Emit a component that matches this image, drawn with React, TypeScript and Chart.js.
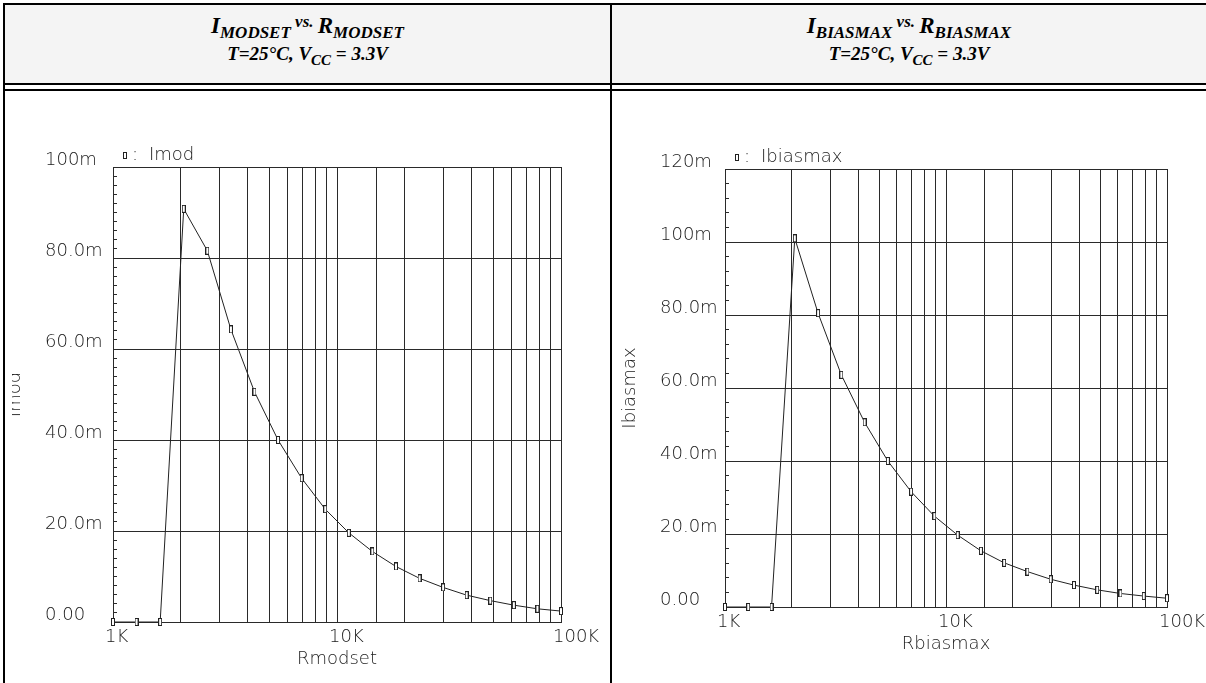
import React, { useEffect, useRef } from 'react';
import { Chart, registerables } from 'chart.js';

Chart.register(...registerables);

// ---- data ----
const resistanceOhms = [1000, 1274, 1624, 2069, 2637, 3360, 4281, 5456, 6952, 8859, 11288, 14384, 18330, 23357, 29764, 37927, 48329, 61585, 78476, 100000];
const imodMilliamps = [0, 0, 0, 90.8, 81.6, 64.3, 50.6, 40.0, 31.6, 24.8, 19.6, 15.5, 12.2, 9.6, 7.6, 5.9, 4.7, 3.7, 2.9, 2.4];
const ibiasmaxMilliamps = [0, 0, 0, 101.0, 80.5, 63.6, 50.6, 40.0, 31.6, 24.9, 19.7, 15.4, 12.1, 9.7, 7.6, 6.0, 4.7, 3.7, 3.0, 2.4];

const xTickValues = [1000, 10000, 100000];
const xTickLabels = ['1K', '10K', '100K'];
const imodTickValues = [0, 20, 40, 60, 80, 100];
const imodTickLabels = ['0.00', '20.0m', '40.0m', '60.0m', '80.0m', '100m'];
const ibiasTickValues = [0, 20, 40, 60, 80, 100, 120];
const ibiasTickLabels = ['0.00', '20.0m', '40.0m', '60.0m', '80.0m', '100m', '120m'];

const TEXT = '#1a1a1a';
const GRID = '#2a2a2a';
const AXIS_FONT = { family: '"DejaVu Sans", "Liberation Sans", sans-serif', size: 18, weight: '200' as any };

function makeMarker(): HTMLCanvasElement {
  const c = document.createElement('canvas');
  c.width = 4;
  c.height = 8;
  const g = c.getContext('2d')!;
  g.fillStyle = '#ffffff';
  g.fillRect(0, 0, 4, 8);
  g.strokeStyle = '#222222';
  g.lineWidth = 1;
  g.strokeRect(0.5, 0.5, 3, 7);
  return c;
}

type PlotProps = {
  left: number;
  top: number;
  width: number;
  height: number;
  padLeft: number;
  yAxisWidth: number;
  padTop: number;
  padRight: number;
  padBottom: number;
  xAxisHeight: number;
  yMax: number;
  yStep: number;
  yTickValues: number[];
  yTickLabels: string[];
  values: number[];
  seriesLabel: string;
  xTitle: string;
  yTitle: string;
  yTitlePadTop: number;
};

function Plot(p: PlotProps) {
  const ref = useRef<HTMLCanvasElement | null>(null);
  useEffect(() => {
    if (!ref.current) return;
    const marker = makeMarker();
    const keyPlugin = {
      id: 'seriesKey',
      afterDraw(chart: any) {
        const { ctx, chartArea } = chart;
        ctx.save();
        ctx.strokeStyle = '#222';
        ctx.lineWidth = 1;
        const mx = Math.round(chartArea.left + 10) + 0.5;
        const my = Math.round(chartArea.top - 15) + 0.5;
        ctx.strokeRect(mx, my, 3, 6);
        ctx.fillStyle = TEXT;
        ctx.font = `${AXIS_FONT.weight} ${AXIS_FONT.size}px ${AXIS_FONT.family}`;
        ctx.textBaseline = 'alphabetic';
        ctx.textAlign = 'left';
        ctx.fillText(':', chartArea.left + 19, chartArea.top - 7);
        ctx.fillText(p.seriesLabel, chartArea.left + 36, chartArea.top - 7);
        ctx.restore();
      },
    };
    const chart = new Chart(ref.current, {
      type: 'line',
      data: {
        datasets: [
          {
            label: p.seriesLabel,
            data: resistanceOhms.map((r, i) => ({ x: r, y: p.values[i] })),
            borderColor: '#222',
            borderWidth: 1,
            pointStyle: marker as any,
            pointRadius: 4,
            tension: 0,
            clip: false as any,
          },
        ],
      },
      options: {
        animation: false,
        responsive: false,
        devicePixelRatio: 1,
        layout: { padding: { left: p.padLeft, top: p.padTop, right: p.padRight, bottom: p.padBottom } },
        plugins: { legend: { display: false }, tooltip: { enabled: false }, title: { display: false } },
        scales: {
          x: {
            type: 'logarithmic',
            min: 1000,
            max: 100000,
            grid: { color: GRID, lineWidth: 1, drawTicks: false },
            border: { color: GRID, width: 1 },
            ticks: {
              autoSkip: false,
              maxRotation: 0,
              minRotation: 0,
              align: 'start',
              labelOffset: -8,
              padding: 5,
              color: TEXT,
              font: AXIS_FONT,
              callback: (v: any) => {
                const i = xTickValues.findIndex((t) => Math.abs(t - Number(v)) < 0.5);
                return i >= 0 ? xTickLabels[i] : '';
              },
            },
            title: { display: true, text: p.xTitle, color: TEXT, font: AXIS_FONT, padding: { top: 0, bottom: 2 } },
            afterFit: (s: any) => {
              s.height = p.xAxisHeight;
              s.paddingLeft = 0;
              s.paddingRight = 0;
            },
          } as any,
          y: {
            type: 'linear',
            min: 0,
            max: p.yMax,
            grid: {
              color: (c: any) => {
                const v = c.tick ? c.tick.value : 1;
                return p.yTickValues.some((t) => Math.abs(t - v) < 1e-6) ? GRID : 'rgba(0,0,0,0)';
              },
              tickColor: GRID,
              tickLength: -4,
              lineWidth: 1,
            },
            border: { color: GRID, width: 1 },
            ticks: {
              stepSize: p.yStep,
              autoSkip: false,
              padding: 11,
              crossAlign: 'far',
              labelOffset: -7,
              color: TEXT,
              font: AXIS_FONT,
              callback: (v: any) => {
                const i = p.yTickValues.findIndex((t) => Math.abs(t - Number(v)) < 1e-6);
                return i >= 0 ? p.yTickLabels[i] : '';
              },
            },
            title: { display: true, text: p.yTitle, color: TEXT, font: AXIS_FONT, padding: { top: p.yTitlePadTop, bottom: 0 } },
            afterFit: (s: any) => {
              s.width = p.yAxisWidth;
              s.paddingTop = 0;
              s.paddingBottom = 0;
            },
          } as any,
        },
      },
      plugins: [keyPlugin],
    });
    return () => chart.destroy();
  }, []);
  return (
    <canvas
      ref={ref}
      width={p.width}
      height={p.height}
      style={{ position: 'absolute', left: p.left, top: p.top, width: p.width, height: p.height }}
    />
  );
}

const serif = '"Liberation Serif", "Times New Roman", serif';

function Header(props: { left: number; width: number; sym: string }) {
  const sub: React.CSSProperties = { fontSize: 17, position: 'relative', top: 5 };
  return (
    <div
      style={{
        position: 'absolute',
        left: props.left,
        top: 5,
        width: props.width,
        height: 78,
        background: '#f4f4f4',
        fontFamily: serif,
        fontStyle: 'italic',
        fontWeight: 'bold',
        color: '#000',
      }}
    >
      <div style={{ position: 'absolute', left: 0, top: 9, width: '100%', textAlign: 'center', fontSize: 23, lineHeight: '23px', whiteSpace: 'nowrap' }}>
        I<span style={sub}>{props.sym}</span>
        <span style={{ fontSize: 17, position: 'relative', top: -6 }}> vs. </span>R<span style={sub}>{props.sym}</span>
      </div>
      <div style={{ position: 'absolute', left: 0, top: 39, width: '100%', textAlign: 'center', fontSize: 19, lineHeight: '19px', whiteSpace: 'nowrap' }}>
        T=25°C, V<span style={{ fontSize: 15, position: 'relative', top: 5 }}>CC</span> = 3.3V
      </div>
    </div>
  );
}

function Line(props: { x: number; y: number; w: number; h: number }) {
  return <div style={{ position: 'absolute', left: props.x, top: props.y, width: props.w, height: props.h, background: '#000', zIndex: 5 }} />;
}

export default function App() {
  return (
    <div style={{ position: 'absolute', left: 0, top: 0, width: 1206, height: 683, overflow: 'hidden', background: '#fff' }}>
      <Header left={5} width={605} sym="MODSET" />
      <Header left={612} width={594} sym="BIASMAX" />
      <Plot
        left={12}
        top={95}
        width={595}
        height={588}
        padLeft={33}
        yAxisWidth={68}
        padTop={72}
        padRight={46}
        padBottom={11}
        xAxisHeight={50}
        yMax={100}
        yStep={2}
        yTickValues={imodTickValues}
        yTickLabels={imodTickLabels}
        values={imodMilliamps}
        seriesLabel="Imod"
        xTitle="Rmodset"
        yTitle="Imod"
        yTitlePadTop={-40}
      />
      <Plot
        left={614}
        top={95}
        width={592}
        height={588}
        padLeft={46}
        yAxisWidth={65}
        padTop={74}
        padRight={39}
        padBottom={26}
        xAxisHeight={50}
        yMax={120}
        yStep={4}
        yTickValues={ibiasTickValues}
        yTickLabels={ibiasTickLabels}
        values={ibiasmaxMilliamps}
        seriesLabel="Ibiasmax"
        xTitle="Rbiasmax"
        yTitle="Ibiasmax"
        yTitlePadTop={-40}
      />
      <Line x={3} y={3} w={1203} h={2} />
      <Line x={3} y={3} w={2} h={680} />
      <Line x={610} y={3} w={2} h={680} />
      <Line x={3} y={83} w={1203} h={2} />
      <Line x={3} y={89} w={1203} h={2} />
    </div>
  );
}
